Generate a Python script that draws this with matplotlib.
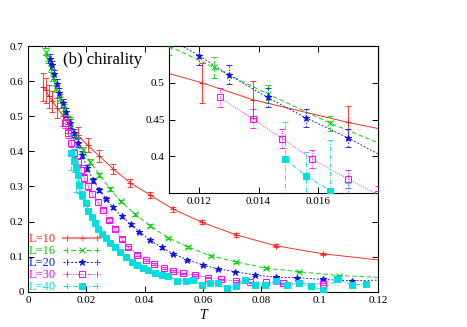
import numpy as np
import matplotlib
matplotlib.use("Agg")
import matplotlib.pyplot as plt
from matplotlib.lines import Line2D
from matplotlib.legend_handler import HandlerLine2D
from matplotlib.ticker import FormatStrFormatter

plt.rcParams['font.family'] = ['Liberation Serif', 'DejaVu Serif']

# ---- data ----
T10 = [0.0052, 0.0062, 0.0071, 0.0083, 0.0100, 0.0121, 0.0138, 0.0170, 0.0205,
       0.0245, 0.0292, 0.0350, 0.0418, 0.0498, 0.0596, 0.0713, 0.0849, 0.1010]
y10 = [0.584, 0.574, 0.557, 0.543, 0.524, 0.500, 0.477, 0.446, 0.417,
       0.386, 0.350, 0.310, 0.276, 0.235, 0.198, 0.162, 0.131, 0.108]
e10 = [0.040, 0.036, 0.033, 0.030, 0.028, 0.027, 0.025, 0.023, 0.020,
       0.017, 0.014, 0.012, 0.009, 0.007, 0.006, 0.005, 0.004, 0.003]

T16 = [0.0057, 0.0063, 0.0070, 0.0078, 0.0087, 0.0097, 0.0110, 0.0125, 0.0143,
       0.0164, 0.0188, 0.0213, 0.0245, 0.0281, 0.0318, 0.0367, 0.0418, 0.0479,
       0.0550, 0.0626, 0.0713, 0.0816, 0.0929, 0.1067]
y16 = [0.705, 0.684, 0.662, 0.637, 0.610, 0.580, 0.550, 0.521, 0.485,
       0.445, 0.405, 0.370, 0.333, 0.293, 0.257, 0.221, 0.188, 0.154,
       0.127, 0.102, 0.085, 0.067, 0.057, 0.046]
e16 = [0.010, 0.010, 0.010, 0.010, 0.010, 0.010, 0.012, 0.014, 0.012,
       0.010, 0.008, 0.007, 0.006, 0.006, 0.005, 0.004, 0.004, 0.003,
       0.003, 0.003, 0.003, 0.002, 0.002, 0.002]

T20 = [0.0075, 0.0081, 0.0089, 0.0098, 0.0107, 0.0120, 0.0130, 0.0143, 0.0156,
       0.0170, 0.0186, 0.0203, 0.0224, 0.0245, 0.0267, 0.0292, 0.0321, 0.0352,
       0.0382, 0.0418, 0.0458, 0.0498, 0.0546, 0.0601, 0.0652, 0.0710, 0.0778,
       0.0850, 0.0923, 0.1010, 0.1110]
y20 = [0.664, 0.646, 0.619, 0.593, 0.567, 0.537, 0.511, 0.480, 0.452,
       0.425, 0.390, 0.352, 0.318, 0.290, 0.265, 0.240, 0.215, 0.192,
       0.170, 0.147, 0.126, 0.108, 0.091, 0.076, 0.065, 0.057, 0.048,
       0.041, 0.040, 0.035, 0.031]
e20 = [0.012, 0.012, 0.012, 0.012, 0.013, 0.013, 0.013, 0.013, 0.012,
       0.012, 0.010, 0.008, 0.007, 0.006, 0.005, 0.005, 0.004, 0.004,
       0.004, 0.003, 0.003, 0.003, 0.003, 0.002, 0.002, 0.002, 0.002,
       0.002, 0.002, 0.002, 0.002]

T30 = [0.0127, 0.0138, 0.0148, 0.0158, 0.0170, 0.0180, 0.0193, 0.0207, 0.0220,
       0.0239, 0.0258, 0.0278, 0.0298, 0.0321, 0.0344, 0.0375, 0.0405, 0.0432,
       0.0466, 0.0496, 0.0533, 0.0573, 0.0618, 0.0660, 0.0712, 0.0761, 0.0816,
       0.0875, 0.0929, 0.1010]
y30 = [0.480, 0.451, 0.424, 0.396, 0.369, 0.348, 0.324, 0.300, 0.278,
       0.256, 0.232, 0.205, 0.178, 0.150, 0.127, 0.105, 0.091, 0.079,
       0.067, 0.058, 0.052, 0.047, 0.040, 0.035, 0.031, 0.027, 0.027,
       0.024, 0.024, 0.022]
e30 = [0.013, 0.013, 0.013, 0.012, 0.012, 0.012, 0.011, 0.010, 0.009,
       0.008, 0.007, 0.006, 0.006, 0.005, 0.004, 0.004, 0.003, 0.003,
       0.003, 0.003, 0.002, 0.002, 0.002, 0.002, 0.002, 0.002, 0.002,
       0.002, 0.002, 0.002]

T40 = [0.0149, 0.0156, 0.0164, 0.0170, 0.0176, 0.0186, 0.0199, 0.0207, 0.0218,
       0.0230, 0.0241, 0.0253, 0.0267, 0.0281, 0.0298, 0.0315, 0.0336, 0.0355,
       0.0373, 0.0393, 0.0413, 0.0435, 0.0458, 0.0481, 0.0512, 0.0542, 0.0567,
       0.0598, 0.0624, 0.0652, 0.0683, 0.0712, 0.0744, 0.0778, 0.0813, 0.0850,
       0.0889, 0.0929, 0.0969, 0.1010, 0.1060, 0.1110, 0.1158]
y40 = [0.396, 0.373, 0.353, 0.333, 0.305, 0.276, 0.253, 0.231, 0.212,
       0.195, 0.178, 0.165, 0.152, 0.140, 0.127, 0.114, 0.100, 0.086,
       0.076, 0.067, 0.062, 0.053, 0.048, 0.045, 0.031, 0.031, 0.033,
       0.019, 0.026, 0.024, 0.010, 0.015, 0.033, 0.019, 0.019, 0.031,
       0.019, 0.024, 0.016, 0.005, 0.035, 0.019, 0.022]
e40 = [0.050, 0.033, 0.069, 0.030, 0.025, 0.012, 0.008, 0.006, 0.005,
       0.005, 0.004, 0.004, 0.004, 0.003, 0.003, 0.003, 0.003, 0.003,
       0.003, 0.003, 0.003, 0.003, 0.003, 0.003, 0.003, 0.003, 0.003,
       0.003, 0.003, 0.003, 0.003, 0.003, 0.003, 0.003, 0.003, 0.003,
       0.003, 0.003, 0.003, 0.003, 0.003, 0.003, 0.003]

labels = ["L=10", "L=16", "L=20", "L=30", "L=40"]
# where the fitted curves end at the right edge (T = 0.12), None = stops at last point
line_end_T = 0.12
line_end_y = [0.0906, 0.041, 0.033, None, None]

series = [(T10, y10, e10), (T16, y16, e16), (T20, y20, e20), (T30, y30, e30), (T40, y40, e40)]
colors = ['#ff2020', '#00d000', '#1010f0', '#ff00ff', '#00dede']
styles = ['-', (0, (5, 3)), (0, (2, 2)), (0, (1, 1.5)), (0, (5, 2, 1, 2))]
markers = ['+', 'x', '*', 's', 's']
fills = ['full', 'full', 'full', 'none', 'full']
msizes = [4, 3.8, 4.5, 4, 3.8]


def draw(ax, lw=0.65):
    for (T, y, e), c, ls, m, fs, ms, yend in zip(series, colors, styles, markers,
                                                 fills, msizes, line_end_y):
        lx, ly = list(T), list(y)
        if yend is not None:
            lx.append(line_end_T)
            ly.append(yend)
        ax.plot(lx, ly, color=c, ls=ls, lw=lw, zorder=2)
        eb = ax.errorbar(T, y, yerr=e, fmt='none', ecolor=c, elinewidth=0.6,
                         capsize=2.2, capthick=0.6, zorder=2)
        eb[2][0].set_linestyle(ls)
        ax.plot(T, y, ls='none', marker=m, color=c, fillstyle=fs, ms=ms,
                mew=0.7, zorder=3)


fig = plt.figure(figsize=(4.67, 3.27), dpi=100)
ax = fig.add_axes([0.060, 0.108, 0.7494, 0.7512])
draw(ax)
ax.set_xlim(0, 0.12)
ax.set_ylim(0, 0.7)
ax.set_xticks(np.arange(0, 0.121, 0.02))
ax.set_yticks(np.arange(0, 0.71, 0.1))
ax.xaxis.set_major_formatter(FormatStrFormatter('%g'))
ax.yaxis.set_major_formatter(FormatStrFormatter('%g'))
ax.tick_params(direction='in', top=True, right=True, length=4, width=0.7,
               labelsize=8, pad=3)
for s in ax.spines.values():
    s.set_linewidth(0.8)
ax.set_xlabel('T', fontstyle='italic', fontsize=10, labelpad=3)
ax.text(0.10, 0.943, '(b) chirality', transform=ax.transAxes, fontsize=12,
        va='center', ha='left')

# legend: text on the left, sample line with caps on the right
handles = []
hmap = {}
for c, ls, m, fs, ms in zip(colors, styles, markers, fills, msizes):
    ln = Line2D([], [], color=c, ls=ls, lw=1.6 if ls == '-' else 0.7,
                alpha=0.55 if ls == '-' else 1,
                marker=m, fillstyle=fs, ms=ms, mew=0.7)
    cap = Line2D([], [], color=c, ls='none', marker='|', ms=5, mew=0.6)
    hmap[ln] = HandlerLine2D(numpoints=1)
    hmap[cap] = HandlerLine2D(numpoints=2)
    handles.append((ln, cap))
leg = ax.legend(handles, labels, handler_map=hmap, loc='lower left',
                bbox_to_anchor=(-0.003, -0.012), markerfirst=False, frameon=False,
                fontsize=9, labelcolor=colors, handlelength=3.0,
                handletextpad=0.6, labelspacing=0.0, borderaxespad=0.0,
                borderpad=0.1)

# inset
axi = fig.add_axes([0.3619, 0.4098, 0.4475, 0.4495])
draw(axi)
axi.set_xlim(0.011, 0.018)
axi.set_ylim(0.35, 0.55)
axi.set_xticks([0.012, 0.014, 0.016])
axi.set_yticks([0.4, 0.45, 0.5])
axi.xaxis.set_major_formatter(FormatStrFormatter('%g'))
axi.yaxis.set_major_formatter(FormatStrFormatter('%g'))
axi.tick_params(direction='in', top=True, right=True, length=4, width=0.7,
                labelsize=8, pad=3)
for s in axi.spines.values():
    s.set_linewidth(0.8)

fig.savefig('out.png', dpi=100)
